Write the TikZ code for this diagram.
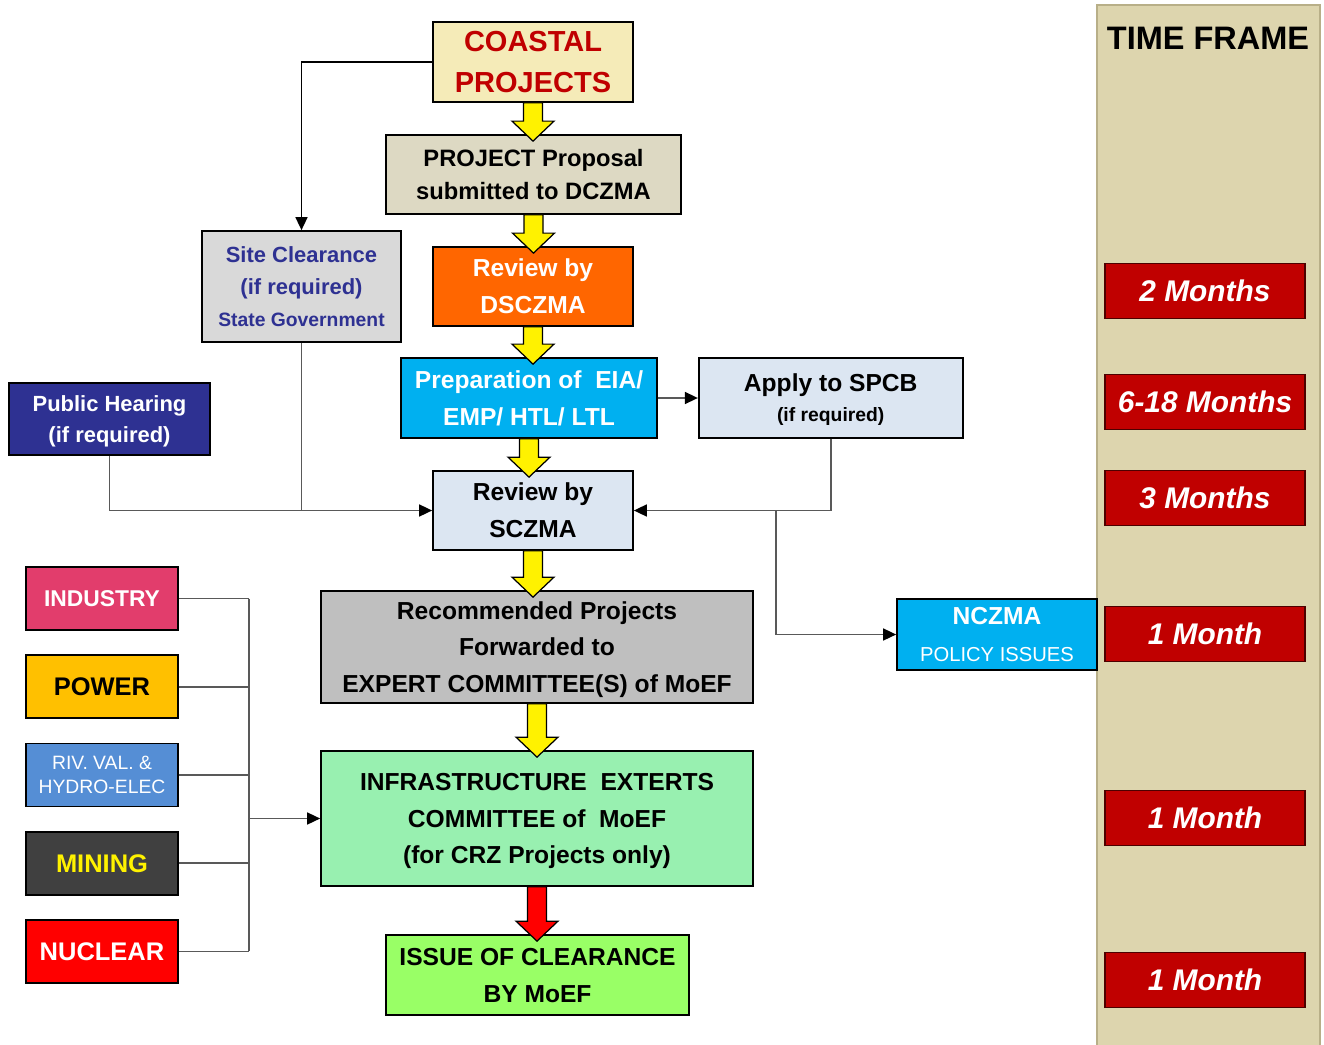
\documentclass[tikz,border=0pt]{standalone}
\usepackage{fontspec}
\setmainfont{Liberation Sans}
\usetikzlibrary{positioning, calc, arrows.meta}

\definecolor{coastfill}{HTML}{F5EBB8}
\definecolor{coasttext}{HTML}{C00000}
\definecolor{propfill}{HTML}{DDD9C3}
\definecolor{dscfill}{HTML}{FF6600}
\definecolor{skyfill}{HTML}{00B0F0}
\definecolor{palefill}{HTML}{DCE6F2}
\definecolor{recfill}{HTML}{BFBFBF}
\definecolor{infrafill}{HTML}{98F0B0}
\definecolor{issuefill}{HTML}{99FF66}
\definecolor{sitefill}{HTML}{D9D9D9}
\definecolor{navy}{HTML}{2E3192}
\definecolor{indfill}{HTML}{E23D6C}
\definecolor{powfill}{HTML}{FFC000}
\definecolor{rivfill}{HTML}{558ED5}
\definecolor{minfill}{HTML}{404040}
\definecolor{panelfill}{HTML}{DDD5AE}
\definecolor{paneledge}{HTML}{B8AF88}
\definecolor{timered}{HTML}{C00000}
\definecolor{linegrey}{HTML}{595959}

% yellow block arrow between two stacked boxes
\newcommand{\fatarrow}[3][yellow]{%
  \path[fat, fill=#1] let \p1=(#2.south), \p2=(#3.north) in
    (\x1-0.19cm,\y1) -- (\x1+0.19cm,\y1) -- (\x1+0.19cm,\y2+0.26cm)
    -- (\x1+0.42cm,\y2+0.26cm) -- (\x1,\y2-0.14cm) -- (\x1-0.42cm,\y2+0.26cm)
    -- (\x1-0.19cm,\y2+0.26cm) -- cycle;}

\begin{document}
\begin{tikzpicture}[
  x=0.02cm, y=-0.02cm,
  box/.style={draw=black, line width=1pt, align=center, inner sep=1pt, text depth=0pt,
    font=\bfseries\fontsize{14}{21}\selectfont},
  sector/.style={box, minimum width=3.04cm, minimum height=1.26cm},
  timebox/.style={draw=black!60!timered, line width=0.8pt, fill=timered, text=white,
    minimum width=4cm, minimum height=1.1cm,
    font=\bfseries\itshape\fontsize{17}{20}\selectfont},
  fat/.style={draw=black, line width=0.7pt},
  line/.style={draw=linegrey, line width=0.9pt},
  link/.style={line, -{Triangle[length=2.6mm,width=2.4mm,color=black]}},
  node distance=0.66cm
]
\useasboundingbox (0,0) rectangle (1324,1044);

% time frame column
\filldraw[fill=panelfill, draw=paneledge, line width=1.5pt] (1097,5) rectangle (1320,1050);
\node (tf) at (1208,38) {\bfseries\fontsize{18.5}{20}\selectfont TIME FRAME};

\node[timebox] (t1) at (1205,291) {2 Months};
\node[timebox] (t2) at (1205,402) {6-18 Months};
\node[timebox] (t3) at (1205,498) {3 Months};
\node[timebox] (t4) at (1205,634) {1 Month};
\node[timebox] (t5) at (1205,818) {1 Month};
\node[timebox] (t6) at (1205,980) {1 Month};

% main column
\node[box, fill=coastfill, text=coasttext, minimum width=4cm, minimum height=1.6cm,
  font=\bfseries\fontsize{16.5}{23}\selectfont] (coastal) at (533,62) {COASTAL\\PROJECTS};
\node[box, fill=propfill, minimum width=5.9cm, minimum height=1.58cm,
  font=\bfseries\fontsize{13.5}{19}\selectfont] (proposal) at (533.5,174.5)
  {PROJECT Proposal\\submitted to DCZMA};
\node[box, fill=dscfill, text=white, minimum width=4cm, minimum height=1.58cm]
  (dsczma) at (533,286.5) {Review by\\DSCZMA};
\node[box, fill=skyfill, text=white, minimum width=5.12cm, minimum height=1.6cm]
  (eia) at (529,398) {Preparation of~ EIA/\\EMP/ HTL/ LTL};
\node[box, fill=palefill, minimum width=5.28cm, minimum height=1.6cm]
  (spcb) [right=0.8cm of eia] {Apply to SPCB\\[-4pt]{\fontsize{11}{15}\selectfont(if required)}};
\node[box, fill=palefill, minimum width=4cm, minimum height=1.58cm]
  (sczma) at (533,510.5) {Review by\\SCZMA};
\node[box, fill=recfill, minimum width=8.64cm, minimum height=2.24cm]
  (rec) at (537,647)
  {Recommended Projects\\Forwarded to\\EXPERT COMMITTEE(S) of MoEF};
\node[box, fill=infrafill, minimum width=8.64cm, minimum height=2.7cm]
  (infra) at (537,818.5)
  {INFRASTRUCTURE~ EXTERTS\\COMMITTEE of~ MoEF\\(for CRZ Projects only)};
\node[box, fill=issuefill, minimum width=6.06cm, minimum height=1.6cm]
  (issue) at (537.5,975) {ISSUE OF CLEARANCE\\BY MoEF};

% side boxes
\node[box, fill=sitefill, text=navy, minimum width=3.98cm, minimum height=2.22cm,
  font=\bfseries\fontsize{12.5}{18}\selectfont] (site) at (301.5,286.5)
  {Site Clearance\\(if required)\\{\fontsize{11}{15}\selectfont State Government}};
\node[box, fill=navy, text=white, minimum width=4.02cm, minimum height=1.44cm,
  font=\bfseries\fontsize{12.5}{18}\selectfont] (public) at (109.5,419)
  {Public Hearing\\(if required)};
\node[box, fill=skyfill, text=white, minimum width=4cm, minimum height=1.42cm]
  (nczma) at (997,634.5)
  {NCZMA\\{\mdseries\fontsize{11.5}{15}\selectfont POLICY ISSUES}};

% sectors
\node[sector, fill=indfill, text=white, font=\bfseries\fontsize{13}{16}\selectfont]
  (industry) at (102,598.5) {INDUSTRY};
\node[sector, fill=powfill, font=\bfseries\fontsize{14.5}{16}\selectfont]
  (power) [below=0.47cm of industry] {POWER};
\node[sector, fill=rivfill, text=white, font=\fontsize{11}{14}\selectfont]
  (riv) [below=0.47cm of power] {RIV. VAL. \&\\HYDRO-ELEC};
\node[sector, fill=minfill, text=yellow, font=\bfseries\fontsize{14.5}{16}\selectfont]
  (mining) [below=0.47cm of riv] {MINING};
\node[sector, fill=red, text=white, font=\bfseries\fontsize{14.5}{16}\selectfont]
  (nuclear) [below=0.47cm of mining] {NUCLEAR};

% block arrows
\fatarrow{coastal}{proposal}
\fatarrow{proposal}{dsczma}
\fatarrow{dsczma}{eia}
\fatarrow{eia}{sczma}
\fatarrow{sczma}{rec}
\fatarrow{rec}{infra}
\fatarrow[red]{infra}{issue}

% connectors
\coordinate (split) at (776,0);
\coordinate (bus) at (249,0);

\draw[link, draw=black] (coastal.west) -| (site.north);
\draw[link] (public.south) |- (sczma.west);
\draw[line] (site.south) -- (site.south |- sczma.west);
\draw[link] (eia.east) -- (spcb.west);
\draw[link] (spcb.south) |- (sczma.east);
\draw[link] (split |- sczma.east) |- (nczma.west);

\foreach \s in {industry, power, riv, mining, nuclear}
  \draw[line] (\s.east) -- (bus |- \s.east);
\draw[line] (bus |- industry.east) -- (bus |- nuclear.east);
\draw[link] (bus |- infra.west) -- (infra.west);
\end{tikzpicture}
\end{document}
